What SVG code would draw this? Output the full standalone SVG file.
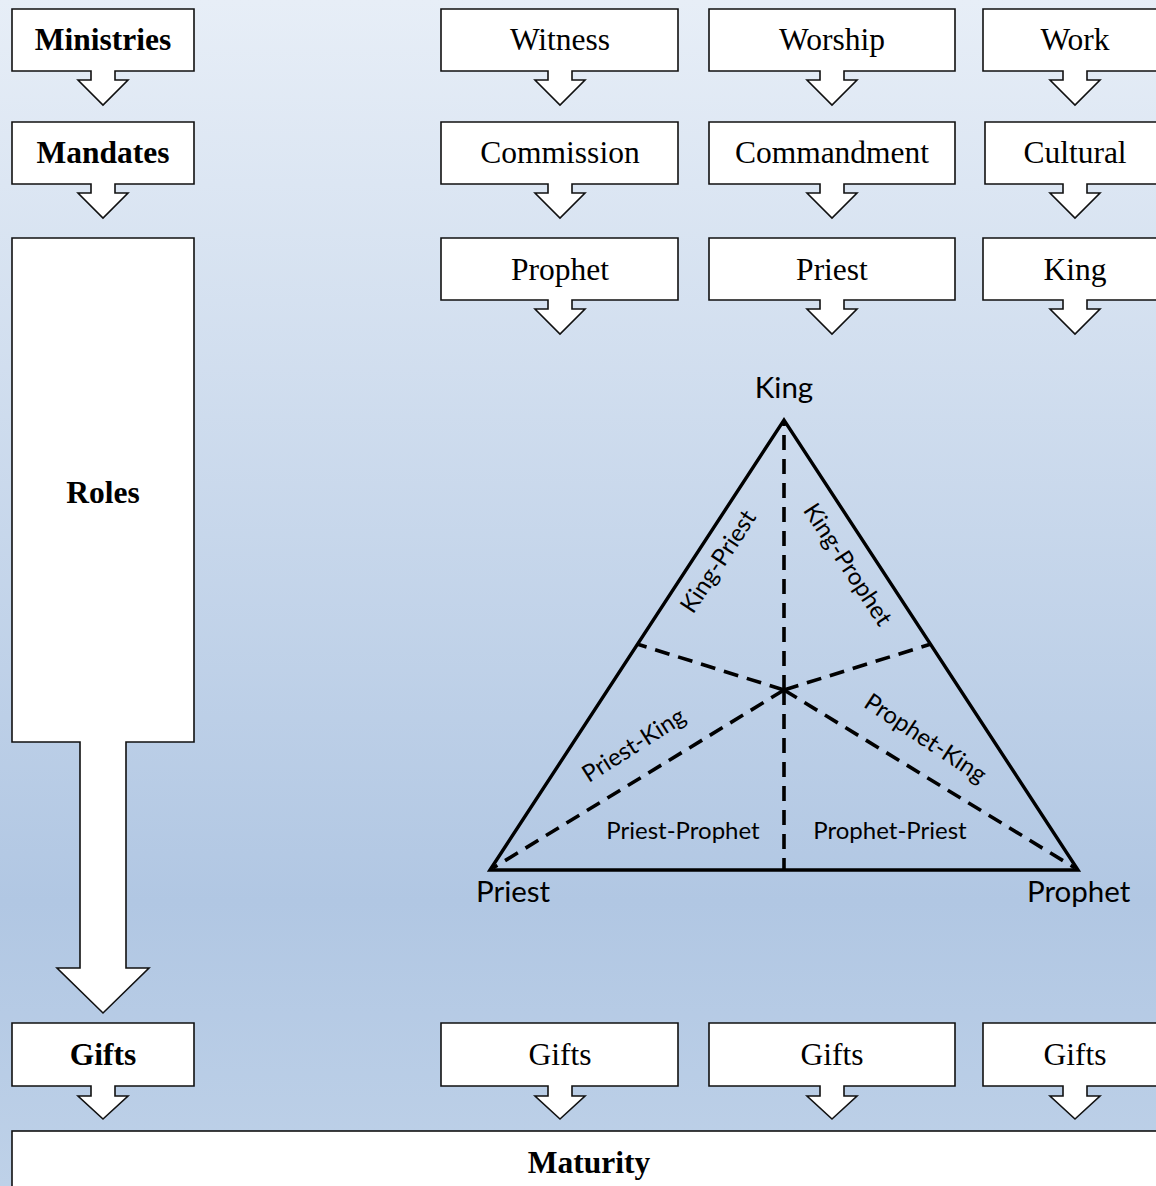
<svg xmlns="http://www.w3.org/2000/svg" width="1156" height="1186" viewBox="0 0 1156 1186">
<defs>
<linearGradient id="bg" x1="0" y1="0" x2="0" y2="1">
<stop offset="0" stop-color="#e7eef7"/>
<stop offset="0.76" stop-color="#b1c7e3"/>
<stop offset="1" stop-color="#bed1e8"/>
</linearGradient>
</defs>
<style>
.box{fill:#fff;stroke:#111;stroke-width:1.6;stroke-linejoin:miter}
.t{font-family:"Liberation Serif","Times New Roman",serif;font-size:31.5px;fill:#000;text-anchor:middle}
.b{font-weight:bold}
.tri{fill:none;stroke:#000;stroke-width:3.4;stroke-linejoin:miter}
.dash{fill:none;stroke:#000;stroke-width:3.6;stroke-dasharray:15 9}
.lab{font-family:Lato,"Open Sans",sans-serif;font-size:24px;fill:#000;text-anchor:middle}
.vl{font-family:Lato,"Open Sans",sans-serif;font-size:29.5px;fill:#000}
</style>
<rect x="0" y="0" width="1156" height="1186" fill="url(#bg)"/>

<g id="ministries"><path class="box" d="M12,9 H194 V71 H115 V80 H128 L103,105 L78,80 H91 V71 H12 Z"/><text class="t b" x="103" y="50">Ministries</text></g>
<g id="mandates"><path class="box" d="M12,122 H194 V184 H115 V193 H128 L103,218 L78,193 H91 V184 H12 Z"/><text class="t b" x="103" y="163">Mandates</text></g>
<g id="roles"><path class="box" d="M12,238 H194 V742 H126 V968 H149 L103,1013 L57,968 H80 V742 H12 Z"/><text class="t b" x="103" y="503">Roles</text></g>
<g id="gifts-label"><path class="box" d="M12,1023 H194 V1086 H115 V1096 H128 L103,1119 L78,1096 H91 V1086 H12 Z"/><text class="t b" x="103" y="1065">Gifts</text></g>

<g id="witness"><path class="box" d="M441,9 H678 V71 H572 V80 H585 L560,105 L535,80 H548 V71 H441 Z"/><text class="t" x="560" y="50">Witness</text></g>
<g id="commission"><path class="box" d="M441,122 H678 V184 H572 V193 H585 L560,218 L535,193 H548 V184 H441 Z"/><text class="t" x="560" y="163">Commission</text></g>
<g id="prophet"><path class="box" d="M441,238 H678 V300 H572 V309 H585 L560,334 L535,309 H548 V300 H441 Z"/><text class="t" x="560" y="280">Prophet</text></g>
<g id="gifts1"><path class="box" d="M441,1023 H678 V1086 H572 V1096 H585 L560,1119 L535,1096 H548 V1086 H441 Z"/><text class="t" x="560" y="1065">Gifts</text></g>

<g id="worship"><path class="box" d="M709,9 H955 V71 H844 V80 H857 L832,105 L807,80 H820 V71 H709 Z"/><text class="t" x="832" y="50">Worship</text></g>
<g id="commandment"><path class="box" d="M709,122 H955 V184 H844 V193 H857 L832,218 L807,193 H820 V184 H709 Z"/><text class="t" x="832" y="163">Commandment</text></g>
<g id="priest"><path class="box" d="M709,238 H955 V300 H844 V309 H857 L832,334 L807,309 H820 V300 H709 Z"/><text class="t" x="832" y="280">Priest</text></g>
<g id="gifts2"><path class="box" d="M709,1023 H955 V1086 H844 V1096 H857 L832,1119 L807,1096 H820 V1086 H709 Z"/><text class="t" x="832" y="1065">Gifts</text></g>

<g id="work"><path class="box" d="M983,9 H1170 V71 H1087 V80 H1100 L1075,105 L1050,80 H1063 V71 H983 Z"/><text class="t" x="1075" y="50">Work</text></g>
<g id="cultural"><path class="box" d="M985,122 H1170 V184 H1087 V193 H1100 L1075,218 L1050,193 H1063 V184 H985 Z"/><text class="t" x="1075" y="163">Cultural</text></g>
<g id="king"><path class="box" d="M983,238 H1170 V300 H1087 V309 H1100 L1075,334 L1050,309 H1063 V300 H983 Z"/><text class="t" x="1075" y="280">King</text></g>
<g id="gifts3"><path class="box" d="M983,1023 H1170 V1086 H1087 V1096 H1100 L1075,1119 L1050,1096 H1063 V1086 H983 Z"/><text class="t" x="1075" y="1065">Gifts</text></g>

<g id="maturity"><rect class="box" x="12" y="1131" width="1160" height="70"/><text class="t b" x="589" y="1173">Maturity</text></g>

<g id="triangle">
<polygon class="tri" points="490,870 784,420 1078,870"/>
<text class="vl" x="784" y="398" text-anchor="middle">King</text>
<text class="vl" x="476" y="902">Priest</text>
<text class="vl" x="1027" y="902">Prophet</text>
<text class="lab" transform="translate(725,566) rotate(-56.8)">King-Priest</text>
<text class="lab" transform="translate(841,569) rotate(56.8)">King-Prophet</text>
<text class="lab" transform="translate(638,752) rotate(-32.5)">Priest-King</text>
<text class="lab" transform="translate(921,745) rotate(33.5)">Prophet-King</text>
<text class="lab" x="683" y="839">Priest-Prophet</text>
<text class="lab" x="890" y="839">Prophet-Priest</text>
</g>
<g id="connectors">
<line class="dash" x1="784" y1="690" x2="784" y2="420"/>
<line class="dash" x1="784" y1="690" x2="784" y2="870"/>
<line class="dash" x1="784" y1="690" x2="493" y2="868"/>
<line class="dash" x1="784" y1="690" x2="1075" y2="868"/>
<line class="dash" x1="784" y1="690" x2="637" y2="644"/>
<line class="dash" x1="784" y1="690" x2="931" y2="644"/>
</g>
</svg>
